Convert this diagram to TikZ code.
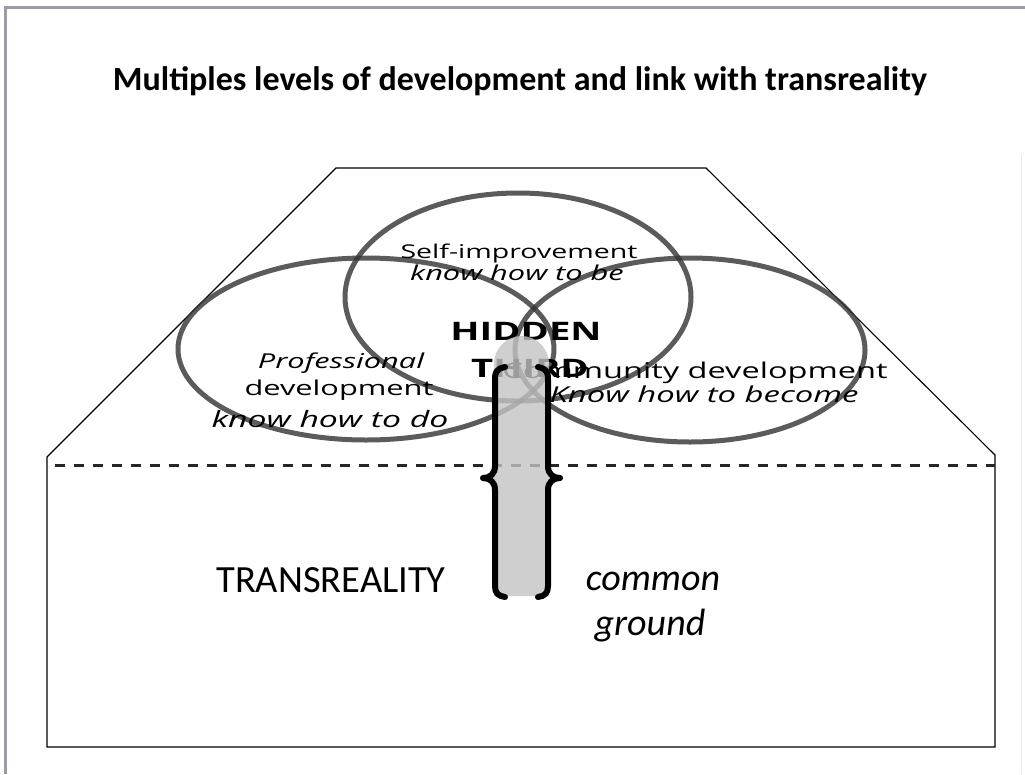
\documentclass[tikz,border=0pt]{standalone}
\usepackage{fontspec}
\setmainfont{Carlito}
\newfontfamily\osans{Open Sans}
\newcommand{\widetxt}[1]{\scalebox{1.5}[1]{#1}}
\definecolor{framegray}{HTML}{9C9CA8}
\definecolor{ringgray}{HTML}{333333}
\definecolor{colgray}{HTML}{C4C4C4}
\tikzset{
  ring/.style={draw=ringgray, line width=5pt, draw opacity=0.8},
  outline/.style={draw=black, line width=1.1pt},
  brace/.style={draw=black, line width=6pt, line cap=round, line join=round},
  lbl/.style={inner sep=0pt, anchor=base, text=black},
}
\begin{document}
\begin{tikzpicture}[x=1pt,y=-1pt]
\useasboundingbox (0,0) rectangle (1025,774);
\fill[white] (0,0) rectangle (1025,774);
% page frame
\draw[framegray, line width=3pt] (5,774) -- (5,7) -- (1025,7);
\draw[black!8, line width=1pt] (1021,155) -- (1021,774);
% title
\node[lbl, font=\bfseries\fontsize{34}{38}\selectfont] (title) at (520,90) {Multiples levels of development and link with transreality};
% outline shape
\draw[outline] (47,747) -- (47,457) -- (336,168) -- (706,168) -- (995,455) -- (995,747) -- cycle;
\draw[black!85, line width=3pt, dash pattern=on 10pt off 9pt] (55,465) -- (995,465);
% rings
\draw[ring] (518,297) ellipse [x radius=173, y radius=104];
\draw[ring] (366,349) ellipse [x radius=188, y radius=91];
\draw[ring] (690,350) ellipse [x radius=175, y radius=92];
% ring labels
\node[lbl, font=\osans\fontsize{19}{22}\selectfont] (self) at (519,258) {\widetxt{Self-improvement}};
\node[lbl, font=\osans\itshape\fontsize{20.5}{22}\selectfont] (selfk) at (517,280) {\widetxt{know how to be}};
\node[lbl, font=\osans\itshape\fontsize{20.5}{24}\selectfont] (prof1) at (341,368) {\widetxt{Professional}};
\node[lbl, font=\osans\fontsize{20.5}{24}\selectfont] (prof2) at (339,395) {\widetxt{development}};
\node[lbl, font=\osans\itshape\fontsize{22.5}{26}\selectfont] (profk) at (330,427) {\widetxt{know how to do}};
\node[lbl, font=\osans\fontsize{21.7}{26}\selectfont] (comm) at (695,378) {\widetxt{Community development}};
\node[lbl, font=\osans\itshape\fontsize{21.9}{26}\selectfont] (commk) at (704,402) {\widetxt{Know how to become}};
\node[lbl, font=\osans\bfseries\fontsize{25.5}{28}\selectfont] (hid1) at (526,340) {\widetxt{HIDDEN}};
\node[lbl, font=\osans\bfseries\fontsize{25.5}{28}\selectfont] (hid2) at (530,377) {\widetxt{THIRD}};
% common ground column
\fill[colgray, fill opacity=0.8] (494,596) -- (494,364) arc[start angle=180, end angle=0, x radius=27.5, y radius=-28] -- (549,596) -- cycle;
\draw[brace] (505,367) .. controls (496,369) and (495,372) .. (495,380) -- (495,466) .. controls (495,474) and (490,478) .. (483,478) .. controls (490,478) and (495,482) .. (495,490) -- (495,586) .. controls (495,593) and (498,596) .. (505,597);
\draw[brace] (538,367) .. controls (547,369) and (548,372) .. (548,380) -- (548,466) .. controls (548,474) and (553,478) .. (560,478) .. controls (553,478) and (548,482) .. (548,490) -- (548,586) .. controls (548,593) and (545,596) .. (538,597);
% lower labels
\node[lbl, font=\fontsize{38.5}{40}\selectfont] (trans) at (331,592) {TRANSREALITY};
\node[lbl, font=\itshape\fontsize{38}{40}\selectfont] (common) at (653,590) {common};
\node[lbl, font=\itshape\fontsize{38}{40}\selectfont] (ground) at (650,635) {ground};
\end{tikzpicture}
\end{document}
